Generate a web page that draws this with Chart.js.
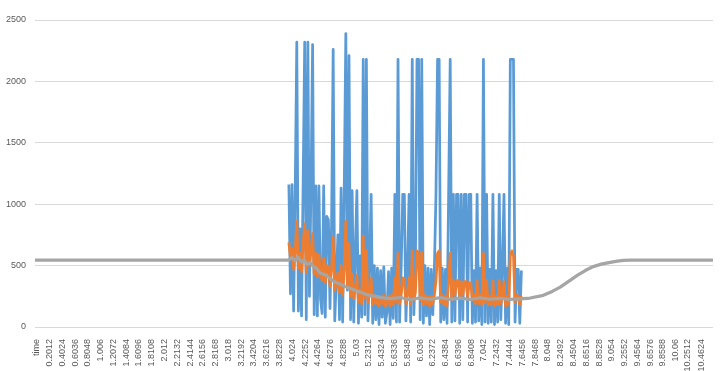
<!DOCTYPE html>
<html>
<head>
<meta charset="utf-8">
<script src="https://cdn.jsdelivr.net/npm/chart.js@4/dist/chart.umd.min.js"></script>
<style>
  html, body { margin: 0; padding: 0; background: #ffffff; }
  #wrap { width: 720px; height: 371px; }
</style>
</head>
<body>
<div id="wrap"><canvas id="chart" width="720" height="371"></canvas></div>
<script>
// tick labels along the time axis (first one is the header cell)
const xTickLabels = ['time', '0.2012', '0.4024', '0.6036', '0.8048', '1.006', '1.2072', '1.4084', '1.6096', '1.8108',
  '2.012', '2.2132', '2.4144', '2.6156', '2.8168', '3.018', '3.2192', '3.4204', '3.6216', '3.8228',
  '4.024', '4.2252', '4.4264', '4.6276', '4.8288', '5.03', '5.2312', '5.4324', '5.6336', '5.8348',
  '6.036', '6.2372', '6.4384', '6.6396', '6.8408', '7.042', '7.2432', '7.4444', '7.6456', '7.8468',
  '8.048', '8.2492', '8.4504', '8.6516', '8.8528', '9.054', '9.2552', '9.4564', '9.6576', '9.8588',
  '10.06', '10.2512', '10.4624']
const yTicks = [0, 500, 1000, 1500, 2000, 2500]

// blue + orange series are sampled on a regular grid
const sampleStart = 3.97
const sampleStep = 0.0249

const blueVals = [1160, 270, 1160, 130, 1100, 2320, 130, 800, 90, 1160,
  2320, 60, 2320, 250, 1160, 2300, 100, 1150, 90, 1150,
  230, 110, 1150, 80, 900, 870, 150, 850, 2260, 50,
  400, 750, 60, 1130, 40, 1120, 2390, 300, 2210, 60,
  1110, 40, 620, 1110, 30, 580, 80, 2180, 100, 2180,
  50, 520, 1080, 30, 500, 60, 480, 20, 460, 80,
  490, 30, 120, 450, 20, 480, 70, 1080, 40, 2180,
  40, 480, 1080, 1080, 50, 460, 1080, 40, 2180, 100,
  520, 2180, 2180, 60, 2180, 30, 500, 90, 480, 20,
  470, 100, 480, 1080, 2180, 2180, 40, 480, 60, 470,
  30, 1080, 2180, 40, 1080, 50, 1080, 1080, 30, 1080,
  60, 1080, 1080, 40, 1080, 1080, 30, 460, 40, 1080,
  50, 480, 20, 2180, 40, 1080, 30, 470, 40, 1080,
  20, 460, 40, 1080, 60, 480, 1080, 30, 480, 20,
  2180, 2180, 2180, 40, 470, 470, 30, 460]

const orangeVals = [690, 560, 640, 470, 620, 860, 480, 600, 450, 680,
  840, 440, 780, 500, 620, 760, 430, 600, 410, 590,
  420, 380, 560, 360, 500, 490, 330, 480, 730, 300,
  360, 440, 280, 500, 260, 480, 860, 320, 680, 250,
  430, 230, 320, 420, 200, 300, 190, 740, 240, 620,
  200, 270, 400, 180, 260, 190, 250, 170, 250, 190,
  260, 170, 190, 250, 170, 260, 180, 400, 200, 600,
  190, 260, 400, 390, 190, 260, 400, 180, 620, 220,
  280, 620, 600, 220, 610, 180, 260, 190, 250, 170,
  250, 190, 260, 380, 600, 620, 200, 260, 180, 250,
  170, 380, 600, 220, 380, 260, 370, 380, 250, 370,
  260, 370, 370, 250, 360, 360, 220, 260, 190, 380,
  190, 260, 180, 600, 200, 380, 180, 250, 180, 380,
  170, 250, 180, 380, 190, 260, 370, 170, 250, 180,
  580, 620, 580, 200, 260, 250, 180, 250]

// gray (smoothed) series, given at its own time points
const grayTimes = [-0.027, 3.95, 3.974, 4.021, 4.068, 4.116, 4.163, 4.21, 4.257, 4.305,
  4.352, 4.399, 4.462, 4.541, 4.62, 4.698, 4.777, 4.856, 4.935, 5.013,
  5.092, 5.171, 5.25, 5.328, 5.407, 5.486, 5.565, 5.723, 5.88, 6.038,
  6.195, 6.352, 6.51, 6.667, 6.825, 6.982, 7.14, 7.297, 7.455, 7.612,
  7.77, 7.975, 8.116, 8.242, 8.368, 8.51, 8.636, 8.762, 8.888, 9.03,
  9.14, 9.235, 9.345, 10.647]
const grayVals = [545, 545, 548, 565, 540, 570, 530, 545, 510, 525,
  495, 480, 440, 425, 395, 365, 350, 330, 315, 300,
  285, 268, 258, 250, 242, 236, 232, 240, 222, 238,
  226, 240, 225, 236, 224, 238, 226, 234, 224, 230,
  236, 258, 290, 325, 370, 420, 460, 492, 512, 527,
  537, 543, 545, 545]

const blueData = blueVals.map((v, i) => ({ x: sampleStart + i * sampleStep, y: v }))
const orangeData = orangeVals.map((v, i) => ({ x: sampleStart + i * sampleStep, y: v }))
const grayData = grayVals.map((v, i) => ({ x: grayTimes[i], y: v }))

const tickFont = { family: 'Liberation Sans', size: 9 }

new Chart(document.getElementById('chart'), {
  type: 'line',
  data: {
    datasets: [
      {
        label: 'series 1',
        data: blueData,
        borderColor: '#5b9bd5',
        borderWidth: 2.75,
        pointRadius: 0,
        borderJoinStyle: 'round',
        order: 3
      },
      {
        label: 'series 2',
        data: orangeData,
        borderColor: '#ed7d31',
        borderWidth: 2.75,
        pointRadius: 0,
        borderJoinStyle: 'round',
        order: 2
      },
      {
        label: 'series 3',
        data: grayData,
        borderColor: '#a5a5a5',
        borderWidth: 3.25,
        pointRadius: 0,
        borderJoinStyle: 'round',
        order: 1
      }
    ]
  },
  options: {
    responsive: false,
    animation: false,
    layout: { padding: { top: 20, right: 7, left: 0, bottom: 0 } },
    plugins: {
      legend: { display: false },
      tooltip: { enabled: false }
    },
    scales: {
      x: {
        type: 'linear',
        min: -0.027,
        max: 10.647,
        grid: { display: false },
        border: { display: false },
        afterBuildTicks: (scale) => {
          scale.ticks = xTickLabels.map(l => ({ value: l === 'time' ? 0 : Number(l) }))
        },
        afterFit: (scale) => { scale.height = 44 },
        ticks: {
          autoSkip: false,
          minRotation: 90,
          maxRotation: 90,
          padding: 4,
          color: '#595959',
          font: tickFont,
          callback: (value, index) => xTickLabels[index]
        }
      },
      y: {
        min: 0,
        max: 2500,
        afterBuildTicks: (scale) => {
          scale.ticks = yTicks.map(v => ({ value: v }))
        },
        afterFit: (scale) => { scale.width = 35 },
        grid: { color: '#d9d9d9', lineWidth: 1, drawTicks: false },
        border: { display: false },
        ticks: {
          padding: 9,
          color: '#595959',
          font: tickFont,
          callback: (value) => String(value)
        }
      }
    }
  }
})
</script>
</body>
</html>
